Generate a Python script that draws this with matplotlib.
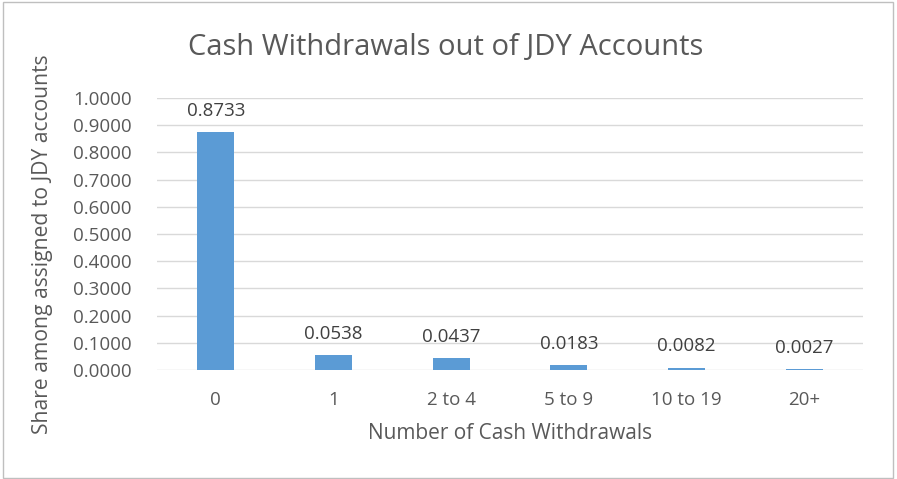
import matplotlib.pyplot as plt
from matplotlib.patches import Rectangle
import numpy as np

categories = ['0', '1', '2 to 4', '5 to 9', '10 to 19', '20+']
shares = [0.8733, 0.0538, 0.0437, 0.0183, 0.0082, 0.0027]
yticks = np.arange(0, 1.01, 0.1)

txt = '#595959'
bar_color = '#5B9BD5'
plt.rcParams['font.family'] = ['Open Sans', 'DejaVu Sans']

fig = plt.figure(figsize=(8.97, 4.79), dpi=100)
ax = fig.add_axes([0.175, 0.2276, 0.787, 0.5678])

x = np.arange(len(categories))
ax.bar(x, shares, width=0.315, color=bar_color, zorder=3)
for xi, v in zip(x, shares):
    ax.annotate(f'{v:.4f}', (xi, v), xytext=(0, 9), textcoords='offset points',
                ha='center', va='bottom', fontsize=13.5, color='#404040')

ax.set_xlim(-0.5, len(categories) - 0.5)
ax.set_ylim(0, 1.0)
ax.set_yticks(yticks)
ax.set_yticklabels([f'{t:.4f}' for t in yticks])
ax.set_xticks(x)
ax.set_xticklabels(categories)
ax.tick_params(axis='both', length=0, labelsize=13.5, labelcolor=txt)
ax.tick_params(axis='x', pad=15)
ax.tick_params(axis='y', pad=18)
ax.grid(axis='y', color='#D9D9D9', linewidth=1, zorder=0)
for s in ax.spines.values():
    s.set_visible(False)

ax.set_xlabel('Number of Cash Withdrawals', fontsize=15, color=txt, labelpad=10)
fig.text(0.047, 0.49, 'Share among assigned to JDY accounts', rotation=90,
         ha='center', va='center', fontsize=15.2, color=txt)
fig.text(0.497, 0.9, 'Cash Withdrawals out of JDY Accounts', ha='center',
         va='center', fontsize=21, color=txt)

fig.patches.append(Rectangle((0.003, 0.003), 0.992, 0.992, transform=fig.transFigure,
                             fill=False, edgecolor='#BFBFBF', linewidth=1))

fig.savefig('out.png', dpi=100)
